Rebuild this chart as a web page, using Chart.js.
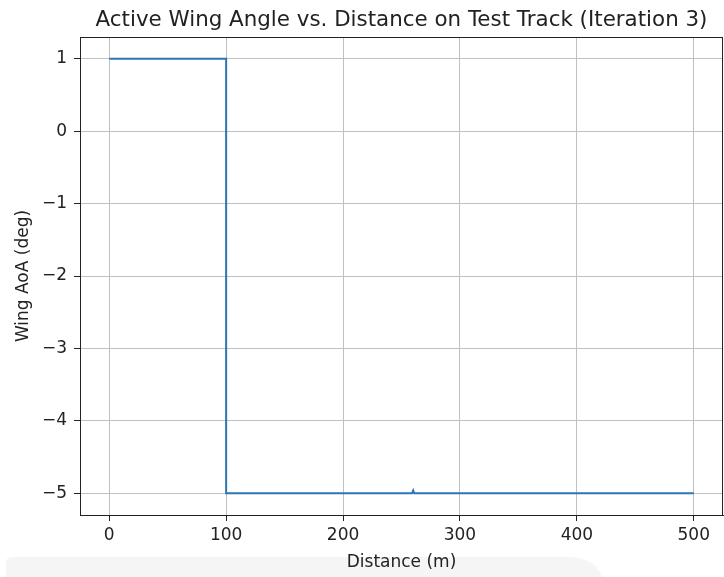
<!DOCTYPE html>
<html>
<head>
<meta charset="utf-8">
<title>Active Wing Angle vs. Distance</title>
<script src="https://cdn.jsdelivr.net/npm/chart.js@4"></script>
<style>
  html, body { margin: 0; padding: 0; background: #ffffff; }
  #wrap { width: 724px; height: 577px; position: relative; }
</style>
</head>
<body>
<div id="wrap"><canvas id="chart" width="724" height="577"></canvas></div>
<script>
// Wing angle of attack along the test track (metres vs degrees)
const distance = [0, 100, 100, 259, 260, 261, 500];
const wingAoA  = [1, 1, -5, -5, -4.96, -5, -5];

const xTicks = [0, 100, 200, 300, 400, 500];
const yTicks = [-5, -4, -3, -2, -1, 0, 1];

const chartTitle = 'Active Wing Angle vs. Distance on Test Track (Iteration 3)';

const points = distance.map((d, i) => ({ x: d, y: wingAoA[i] }));
const fontFamily = "'DejaVu Sans', sans-serif";

// light panel under the x-axis caption
const bottomPanel = {
  id: 'bottomPanel',
  beforeDraw(chart) {
    const ctx = chart.ctx;
    ctx.save();
    ctx.fillStyle = '#f5f5f5';
    ctx.beginPath();
    ctx.moveTo(6, 577);
    ctx.lineTo(6, 562);
    ctx.quadraticCurveTo(6, 557, 14, 557);
    ctx.lineTo(570, 557);
    ctx.quadraticCurveTo(595, 558, 602, 577);
    ctx.closePath();
    ctx.fill();
    ctx.restore();
  }
};

// full frame around the plotting area, plus the title centred over it
const frame = {
  id: 'frame',
  afterDatasetsDraw(chart) {
    const a = chart.chartArea;
    const ctx = chart.ctx;
    ctx.save();
    ctx.strokeStyle = '#222222';
    ctx.lineWidth = 1;
    ctx.strokeRect(Math.round(a.left) + 0.5, Math.round(a.top) + 0.5,
                   Math.round(a.right - a.left) - 1, Math.round(a.bottom - a.top));
    ctx.restore();
  },
  afterDraw(chart) {
    const a = chart.chartArea;
    const ctx = chart.ctx;
    ctx.save();
    ctx.fillStyle = '#222222';
    ctx.font = "21.4px 'DejaVu Sans', sans-serif";
    ctx.textAlign = 'center';
    ctx.textBaseline = 'alphabetic';
    ctx.fillText(chartTitle, (a.left + a.right) / 2, 25.5);
    ctx.restore();
  }
};

const fmt = v => (v < 0 ? '\u2212' + Math.abs(v) : String(v));

new Chart(document.getElementById('chart'), {
  type: 'scatter',
  data: {
    datasets: [{
      data: points,
      showLine: true,
      borderColor: '#2e75b6',
      borderWidth: 2,
      pointRadius: 0,
      pointHoverRadius: 0,
      fill: false,
      tension: 0
    }]
  },
  options: {
    responsive: false,
    animation: false,
    devicePixelRatio: 1,
    layout: { padding: { left: 0, right: 1, top: 37, bottom: 0 } },
    plugins: {
      legend: { display: false },
      tooltip: { enabled: false },
      title: { display: false }
    },
    scales: {
      x: {
        type: 'linear',
        min: -25,
        max: 525,
        afterBuildTicks(scale) { scale.ticks = xTicks.map(v => ({ value: v })); },
        afterFit(scale) { scale.height = 62; },
        ticks: {
          color: '#222222',
          font: { family: fontFamily, size: 17 },
          padding: 4,
          maxRotation: 0,
          callback: v => fmt(v)
        },
        grid: { color: '#c0c0c0', lineWidth: 1, tickColor: '#222222', tickLength: 6, drawTicks: true },
        border: { display: true, color: '#222222', width: 1 },
        title: {
          display: true,
          text: 'Distance (m)',
          color: '#222222',
          font: { family: fontFamily, size: 17 },
          padding: { top: 0, bottom: 4 }
        }
      },
      y: {
        type: 'linear',
        min: -5.3,
        max: 1.3,
        afterBuildTicks(scale) { scale.ticks = yTicks.map(v => ({ value: v })); },
        afterFit(scale) { scale.width = 80; },
        ticks: {
          color: '#222222',
          font: { family: fontFamily, size: 17 },
          padding: 7,
          callback: v => fmt(v)
        },
        grid: { color: '#c0c0c0', lineWidth: 1, tickColor: '#222222', tickLength: 6, drawTicks: true },
        border: { display: true, color: '#222222', width: 1 },
        title: {
          display: true,
          text: 'Wing AoA (deg)',
          color: '#222222',
          font: { family: fontFamily, size: 17 },
          padding: { top: 13.8, bottom: 0 }
        }
      }
    }
  },
  plugins: [bottomPanel, frame]
});
</script>
</body>
</html>
